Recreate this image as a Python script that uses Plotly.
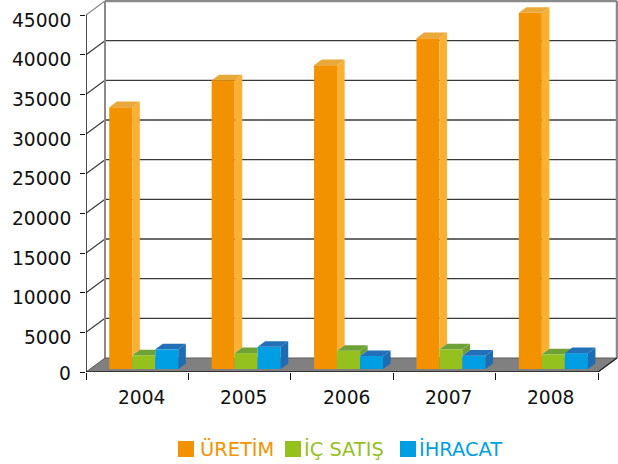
import plotly.graph_objects as go

# ---------------- data ----------------
years = ["2004", "2005", "2006", "2007", "2008"]
uretim = [33000, 36400, 38300, 41700, 44900]
ic_satis = [1730, 2000, 2300, 2480, 1850]
ihracat = [2480, 2800, 1640, 1680, 2000]
series_names = ["ÜRETİM", "İÇ SATIŞ", "İHRACAT"]
y_ticks = [0, 5000, 10000, 15000, 20000, 25000, 30000, 35000, 40000, 45000]

# ---------------- style ----------------
front_cols = ["#F39200", "#95C11F", "#009FE3"]
side_cols = ["#FBB034", "#6E9F33", "#1D6DB4"]
top_cols = ["#E9A83A", "#6FA236", "#2270B7"]
FONT = "DejaVu Sans"
FS = 18.67
LEG_FS = 19.4

W, H = 618, 464
L_PX, B_PX = 86, 372          # plot-area left edge and bottom (px)
CAT_PX = 102.4                # px per category
VAL_PX = 357 / 45000          # px per value unit
DX = 19 / CAT_PX              # depth offset in category units
DY = 14 / VAL_PX              # depth offset in value units
F = 0.214                     # depth of bar front faces
D = 0.40                      # bar depth
BAR_W = 0.2246
OFF0 = -0.273
LEG_SQ_PX = [178, 285, 400]   # legend square left edges (px)
LEG_TX_PX = [198, 302, 417]   # legend text left edges (px)
LEG_Y_PX = 449
LEG_SQ = 16

series = [uretim, ic_satis, ihracat]
n = len(years)
idx = list(range(n))
xr0, xr1 = -0.5, -0.5 + (W - L_PX) / CAT_PX
yr0, yr1 = 0, B_PX / VAL_PX
base = F * DY
ymax = y_ticks[-1]
PW, PH = W - L_PX, B_PX

fig = go.Figure()
shapes = []

def path(pts):
    return "M " + " L ".join(f"{x:.5f},{y:.3f}" for x, y in pts) + " Z"

# back wall
bx0, bx1 = -0.5 + DX, n - 0.5 + DX
shapes.append(dict(type="rect", xref="x", yref="y", x0=bx0, x1=bx1, y0=DY, y1=ymax + DY,
                   fillcolor="white", line=dict(width=0), layer="below"))
for v in y_ticks[1:-1]:
    shapes.append(dict(type="line", xref="x", yref="y", x0=bx0, x1=bx1, y0=v + DY, y1=v + DY,
                       line=dict(color="#3a3a3a", width=1.4), layer="below"))
for v in y_ticks[1:]:
    shapes.append(dict(type="line", xref="x", yref="y", x0=-0.5, x1=bx0, y0=v, y1=v + DY,
                       line=dict(color="#3a3a3a" if v < ymax else "#888888", width=1.2), layer="below"))
shapes.append(dict(type="line", xref="x", yref="y", x0=bx0, x1=bx0, y0=DY, y1=ymax + DY,
                   line=dict(color="#8a8a8a", width=2), layer="below"))
shapes.append(dict(type="line", xref="x", yref="y", x0=bx0, x1=bx1, y0=ymax + DY, y1=ymax + DY,
                   line=dict(color="#8a8a8a", width=2.5), layer="below"))
shapes.append(dict(type="line", xref="x", yref="y", x0=bx1, x1=bx1, y0=DY, y1=ymax + DY,
                   line=dict(color="#8a8a8a", width=2.5), layer="below"))
# floor
shapes.append(dict(type="path", xref="x", yref="y",
                   path=path([(-0.5, 0), (n - 0.5, 0), (n - 0.5 + DX, DY), (-0.5 + DX, DY)]),
                   fillcolor="#808080", line=dict(color="#5a5a5a", width=1), layer="below"))
shapes.append(dict(type="line", xref="x", yref="y", x0=-0.5, x1=n - 0.5, y0=0, y1=0,
                   line=dict(color="#222222", width=1.5), layer="below"))
shapes.append(dict(type="line", xref="x", yref="y", x0=n - 0.5, x1=n - 0.5 + DX, y0=0, y1=DY,
                   line=dict(color="#222222", width=1.2), layer="below"))
shapes.append(dict(type="line", xref="x", yref="y", x0=-0.5, x1=-0.5, y0=0, y1=ymax,
                   line=dict(color="#111111", width=1.5), layer="below"))

# bars: front faces
for s, (name, vals) in enumerate(zip(series_names, series)):
    fig.add_trace(go.Bar(
        x=idx, y=vals, base=[base] * n, offset=OFF0 + s * BAR_W, width=BAR_W,
        marker=dict(color=front_cols[s], line=dict(width=0)),
        name=name, showlegend=False,
        customdata=years, hovertemplate="%{customdata}: %{y}<extra>" + name + "</extra>",
    ))

# bars: side and top faces
ddx, ddy = D * DX, D * DY
for i in idx:
    for s, vals in enumerate(series):
        xl = i + OFF0 + s * BAR_W
        xr = xl + BAR_W
        t = base + vals[i]
        h = base + series[s + 1][i] if s + 1 < len(series) else base
        a = max(h, base)
        if t > a:
            shapes.append(dict(type="path", xref="x", yref="y",
                               path=path([(xr, a), (xr, t), (xr + ddx, t + ddy), (xr + ddx, a + ddy)]),
                               fillcolor=side_cols[s], line=dict(width=0), layer="above"))
        hc = min(max(h, t), t + ddy)
        pts = [(xl, t), (xr, t), (xr, hc), (xr + ddx * (hc - t) / ddy, hc),
               (xr + ddx, t + ddy), (xl + ddx, t + ddy)]
        shapes.append(dict(type="path", xref="x", yref="y", path=path(pts),
                           fillcolor=top_cols[s], line=dict(width=0), layer="above"))

annotations = []
for v in y_ticks:
    annotations.append(dict(xref="paper", yref="y", x=0, y=v, text=str(v), showarrow=False,
                            xanchor="right", yanchor="middle", xshift=-13,
                            yshift=-5 if v > 0 else -1,
                            font=dict(family=FONT, size=FS, color="#111111")))
for i, yl in enumerate(years):
    annotations.append(dict(xref="x", yref="y", x=i + F * DX, y=0, text=yl, showarrow=False,
                            xanchor="center", yanchor="middle", yshift=-25,
                            font=dict(family=FONT, size=FS, color="#111111")))

# legend (squares + coloured labels)
for s, name in enumerate(series_names):
    shapes.append(dict(type="rect", xref="paper", yref="paper",
                       x0=(LEG_SQ_PX[s] - L_PX) / PW, x1=(LEG_SQ_PX[s] + LEG_SQ - L_PX) / PW,
                       y0=(B_PX - LEG_Y_PX - LEG_SQ / 2) / PH, y1=(B_PX - LEG_Y_PX + LEG_SQ / 2) / PH,
                       fillcolor=front_cols[s], line=dict(width=0)))
    annotations.append(dict(xref="paper", yref="paper", x=(LEG_TX_PX[s] - L_PX) / PW,
                            y=(B_PX - LEG_Y_PX) / PH, text=name, showarrow=False,
                            xanchor="left", yanchor="middle",
                            font=dict(family=FONT, size=LEG_FS, color=front_cols[s])))

fig.update_layout(
    width=W, height=H,
    margin=dict(l=L_PX, r=0, t=0, b=H - B_PX, pad=0),
    paper_bgcolor="white", plot_bgcolor="white",
    barmode="overlay",
    showlegend=False,
    xaxis=dict(range=[xr0, xr1], tickvals=[i - 0.5 for i in range(n + 1)],
               ticks="outside", ticklen=7, tickcolor="#111111", tickwidth=1.2,
               showticklabels=False, showgrid=False, zeroline=False, showline=False,
               fixedrange=True),
    yaxis=dict(range=[yr0, yr1], tickvals=y_ticks, ticks="outside", ticklen=5,
               tickcolor="#111111", tickwidth=1.2, showticklabels=False,
               showgrid=False, zeroline=False, showline=False, fixedrange=True),
    shapes=shapes,
    annotations=annotations,
)

fig.write_html("out.html", config={"displayModeBar": False})
